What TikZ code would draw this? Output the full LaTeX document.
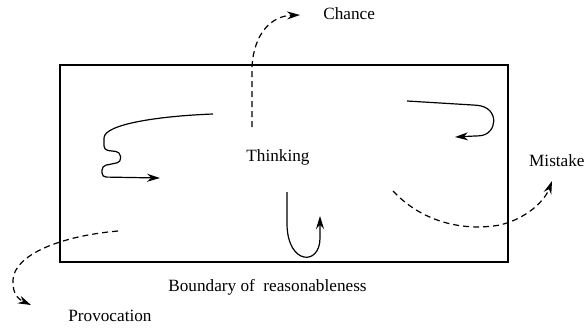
\documentclass[tikz,border=0pt]{standalone}
\usepackage{fontspec}
\setmainfont{Liberation Serif}
\usetikzlibrary{arrows.meta}
\begin{document}
\begin{tikzpicture}[x=0.5pt,y=-0.5pt,
  lbl/.style={inner sep=0pt,font=\fontsize{8.6}{10}\selectfont},
  boxline/.style={line width=1pt},
  solidpath/.style={line width=0.6pt,rounded corners=2pt,-{Stealth[length=6.5pt,width=4pt]}},
  dashpath/.style={line width=0.6pt,dash pattern=on 3pt off 2pt,-{Stealth[length=6.5pt,width=4pt]}}]
\useasboundingbox (0,0) rectangle (587,327);
% boundary box
\draw[boxline] (60,65) rectangle (508,262);
% labels
\node[lbl,anchor=west] (chance) at (323,14) {Chance};
\node[lbl] (thinking) at (278,157) {Thinking};
\node[lbl,anchor=east] (mistake) at (585,161) {Mistake};
\node[lbl,anchor=west] (boundary) at (168,287) {Boundary of\ \ reasonableness};
\node[lbl,anchor=west] (provocation) at (68,316) {Provocation};
% coordinates
\coordinate (c0) at (252,127);
\coordinate (c1) at (252,66);
\coordinate (c2) at (300,15);
\coordinate (l0) at (213,114);
\coordinate (l1) at (160,178);
\coordinate (r0) at (407,101);
\coordinate (r1) at (455,137);
\coordinate (u0) at (287,192);
\coordinate (u1) at (320,216);
\coordinate (m0) at (393,191);
\coordinate (m1) at (552,181);
\coordinate (p0) at (118,231);
\coordinate (p1) at (31,305);
% chance
\draw[dashpath] (c0) -- (c1) .. controls (254,35) and (270,16) .. (c2);
% left squiggle
\draw[solidpath] (l0) .. controls (160,116) and (104,124) .. (104,142) -- (104,150) -- (120,152) -- (121,162) -- (102,166) -- (102,177) -- (l1);
% right hook
\draw[solidpath] (r0) -- (473,105) .. controls (500,107) and (498,135) .. (475,136) -- (r1);
% U
\draw[solidpath,rounded corners=0pt] (u0) -- (287,225) .. controls (288,265) and (320,266) .. (320,238) -- (u1);
% mistake
\draw[dashpath] (m0) .. controls (420,220) and (460,232) .. (500,225) .. controls (528,218) and (545,200) .. (m1);
% provocation
\draw[dashpath] (p0) .. controls (60,236) and (14,255) .. (13,280) .. controls (12,295) and (20,300) .. (p1);
\end{tikzpicture}
\end{document}
